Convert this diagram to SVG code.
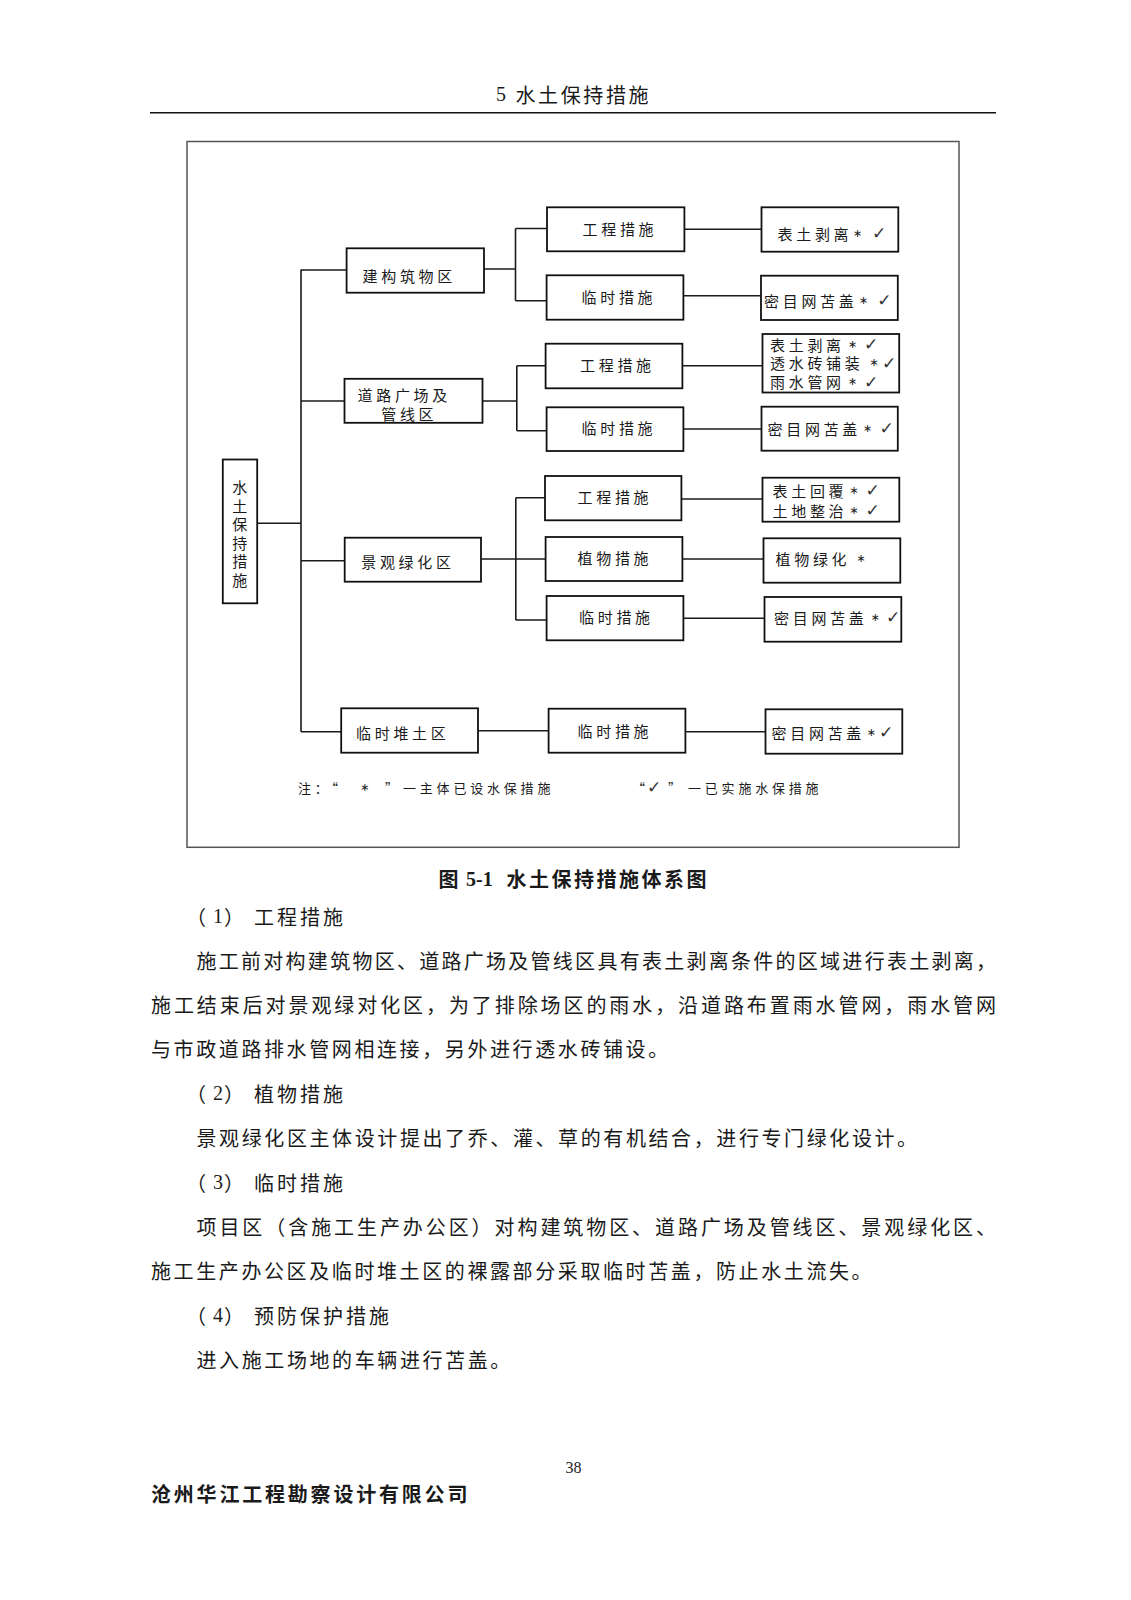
<svg xmlns="http://www.w3.org/2000/svg" width="1131" height="1600" viewBox="0 0 1131 1600">
<style>
text{font-family:"Noto Sans CJK SC","Noto Sans",sans-serif;fill:#1a1a1a;dominant-baseline:central}
.box{fill:#fff;stroke:#111;stroke-width:1.8}
.bt{font-size:15px;letter-spacing:3.7px}
.sym{font-family:"DejaVu Sans",sans-serif;font-size:11px;text-anchor:middle}
.chk{font-family:"DejaVu Sans",sans-serif;font-size:17px;text-anchor:middle;fill:#333}
.con{fill:none;stroke:#1a1a1a;stroke-width:1.6}
.body{font-size:20px;letter-spacing:2.6px}
.head{font-size:20px;letter-spacing:3px}
.note{font-size:13px;letter-spacing:3.8px}
.ser{font-family:"Liberation Serif",serif}
</style>
<rect width="1131" height="1600" fill="#fff"/>

<g id="page-header">
<text x="496" y="94" class="ser" font-size="20">5</text>
<text x="515.5" y="94" font-size="20" letter-spacing="2.6">水土保持措施</text>
<line x1="150" y1="112.7" x2="996" y2="112.7" stroke="#111" stroke-width="1.6"/>
</g>

<rect id="frame" x="187" y="141.5" width="772" height="705.8" fill="none" stroke="#555" stroke-width="1.5"/>

<g id="connectors" class="con">
<path d="M301 269.5V731.7"/>
<path d="M301 270H346.6M301 401H344.5M257 523.3H301M301 560.7H344.7M301 731.7H341.2"/>
<path d="M484 269H515.5M515.5 228.5V300.7M515.5 228.5H547M515.5 300.7H546.6"/>
<path d="M684.4 229.3H761.5M683.4 295.7H761"/>
<path d="M482.5 401H516.8M516.8 365.7V430.7M516.8 365.7H545.6M516.8 430.7H546.6"/>
<path d="M682.4 365.7H762.5M683.4 429H761.5"/>
<path d="M481 559H515.8M515.8 497.7V620M515.8 497.7H545M515.8 559H545.6M515.8 620H546.6"/>
<path d="M681.4 499H762.5M682.4 559H763.5M683.4 618.3H764.5"/>
<path d="M478 730.7H548.6M685.4 731.7H765.5"/>
</g>

<g id="n-root">
<rect class="box" x="222.8" y="459.5" width="34.4" height="143.8"/>
<text font-size="15" text-anchor="middle"><tspan x="239.8" y="486">水</tspan><tspan x="239.8" y="504.6">土</tspan><tspan x="239.8" y="523.2">保</tspan><tspan x="239.8" y="541.8">持</tspan><tspan x="239.8" y="560.4">措</tspan><tspan x="239.8" y="579">施</tspan></text>
</g>

<g id="n-jz">
<rect class="box" x="346.6" y="248.3" width="137.4" height="44.4"/>
<text class="bt" x="362.5" y="275">建构筑物区</text>
</g>
<g id="n-jz-gc">
<rect class="box" x="547" y="207.3" width="137.4" height="44"/>
<text class="bt" x="582.5" y="228.5">工程措施</text>
</g>
<g id="n-jz-ls">
<rect class="box" x="546.6" y="275.3" width="136.8" height="44.4"/>
<text class="bt" x="581.5" y="296">临时措施</text>
</g>
<g id="n-jz-gc-r">
<rect class="box" x="761.5" y="207.3" width="136.8" height="44.4"/>
<text class="bt" x="777.5" y="233.3">表土剥离</text>
<text class="sym" x="857.5" y="233.3">∗</text>
<text class="chk" x="879" y="233.3">✓</text>
</g>
<g id="n-jz-ls-r">
<rect class="box" x="761" y="275.7" width="136.8" height="44.3"/>
<text class="bt" x="764" y="300">密目网苫盖</text>
<text class="sym" x="863.7" y="300">∗</text>
<text class="chk" x="884.3" y="300">✓</text>
</g>

<g id="n-dl">
<rect class="box" x="344.5" y="378.8" width="138" height="44"/>
<text class="bt" x="357.5" y="394.3">道路广场及</text>
<text class="bt" x="381.2" y="413.3">管线区</text>
</g>
<g id="n-dl-gc">
<rect class="box" x="545.6" y="343.7" width="136.8" height="44.6"/>
<text class="bt" x="580" y="364.3">工程措施</text>
</g>
<g id="n-dl-ls">
<rect class="box" x="546.6" y="407.3" width="136.8" height="43.7"/>
<text class="bt" x="581.5" y="427.7">临时措施</text>
</g>
<g id="n-dl-gc-r">
<rect class="box" x="762.5" y="334" width="136.7" height="58.5"/>
<text class="bt" x="770" y="344">表土剥离</text>
<text class="sym" x="852.5" y="344">∗</text>
<text class="chk" x="871" y="344">✓</text>
<text class="bt" x="770" y="362.7" letter-spacing="4.6">透水砖铺装</text>
<text class="sym" x="874" y="362.7">∗</text>
<text class="chk" x="889" y="362.7">✓</text>
<text class="bt" x="770" y="381.7">雨水管网</text>
<text class="sym" x="852.5" y="381.7">∗</text>
<text class="chk" x="871" y="381.7">✓</text>
</g>
<g id="n-dl-ls-r">
<rect class="box" x="761.5" y="406.7" width="136.3" height="44"/>
<text class="bt" x="767.5" y="428">密目网苫盖</text>
<text class="sym" x="867.5" y="428">∗</text>
<text class="chk" x="886.7" y="428">✓</text>
</g>

<g id="n-jg">
<rect class="box" x="344.7" y="537.7" width="136.3" height="44"/>
<text class="bt" x="361.2" y="561">景观绿化区</text>
</g>
<g id="n-jg-gc">
<rect class="box" x="545" y="476" width="136.4" height="44.3"/>
<text class="bt" x="577.5" y="496.7">工程措施</text>
</g>
<g id="n-jg-zw">
<rect class="box" x="545.6" y="537" width="136.8" height="44"/>
<text class="bt" x="577.5" y="557">植物措施</text>
</g>
<g id="n-jg-ls">
<rect class="box" x="546.6" y="596" width="136.8" height="44.3"/>
<text class="bt" x="579" y="616.7">临时措施</text>
</g>
<g id="n-jg-gc-r">
<rect class="box" x="762.5" y="477.7" width="136.8" height="44"/>
<text class="bt" x="772.5" y="490">表土回覆</text>
<text class="sym" x="854.2" y="490">∗</text>
<text class="chk" x="872.5" y="490">✓</text>
<text class="bt" x="772.5" y="510">土地整治</text>
<text class="sym" x="854.2" y="510">∗</text>
<text class="chk" x="872.5" y="510">✓</text>
</g>
<g id="n-jg-zw-r">
<rect class="box" x="763.5" y="538.3" width="136.8" height="44.4"/>
<text class="bt" x="775.5" y="558.3">植物绿化</text>
<text class="sym" x="861" y="558.3">∗</text>
</g>
<g id="n-jg-ls-r">
<rect class="box" x="764.5" y="597" width="136.8" height="44.7"/>
<text class="bt" x="774" y="617">密目网苫盖</text>
<text class="sym" x="875.4" y="617">∗</text>
<text class="chk" x="893" y="617">✓</text>
</g>

<g id="n-ls">
<rect class="box" x="341.2" y="708.3" width="136.8" height="44.4"/>
<text class="bt" x="356" y="732">临时堆土区</text>
</g>
<g id="n-ls-ls">
<rect class="box" x="548.6" y="708.7" width="136.8" height="44"/>
<text class="bt" x="577.5" y="730.3">临时措施</text>
</g>
<g id="n-ls-ls-r">
<rect class="box" x="765.5" y="709.3" width="136.8" height="44.4"/>
<text class="bt" x="771.5" y="732">密目网苫盖</text>
<text class="sym" x="871.4" y="732">∗</text>
<text class="chk" x="886" y="732">✓</text>
</g>

<g id="legend">
<text class="note" y="787"><tspan x="298">注：“</tspan><tspan x="366.7" class="sym" font-size="10">∗</tspan><tspan x="385">”</tspan><tspan x="403">一主体已设水保措施</tspan></text>
<text class="note" y="787"><tspan x="632">“</tspan><tspan x="656" class="chk" font-size="15">✓</tspan><tspan x="668">”</tspan><tspan x="688">一已实施水保措施</tspan></text>
</g>

<g id="caption">
<text x="438.5" y="878.5" font-size="20" font-weight="700">图</text>
<text x="466" y="878.5" class="ser" font-size="20" font-weight="700">5-1</text>
<text x="506.5" y="878.5" font-size="20" font-weight="700" letter-spacing="2.5">水土保持措施体系图</text>
</g>

<g id="body">
<text class="head" y="916"><tspan x="186">（</tspan><tspan x="213" class="ser">1</tspan><tspan x="224">）</tspan><tspan x="254">工程措施</tspan></text>
<text font-size="20" x="196.5" y="960.3" textLength="799.5" lengthAdjust="spacing">施工前对构建筑物区、道路广场及管线区具有表土剥离条件的区域进行表土剥离，</text>
<text font-size="20" x="151" y="1004.6" textLength="845" lengthAdjust="spacing">施工结束后对景观绿对化区，为了排除场区的雨水，沿道路布置雨水管网，雨水管网</text>
<text class="body" x="151" y="1048.9">与市政道路排水管网相连接，另外进行透水砖铺设。</text>
<text class="head" y="1093.2"><tspan x="186">（</tspan><tspan x="213" class="ser">2</tspan><tspan x="224">）</tspan><tspan x="254">植物措施</tspan></text>
<text class="body" x="196.5" y="1137.5">景观绿化区主体设计提出了乔、灌、草的有机结合，进行专门绿化设计。</text>
<text class="head" y="1181.8"><tspan x="186">（</tspan><tspan x="213" class="ser">3</tspan><tspan x="224">）</tspan><tspan x="254">临时措施</tspan></text>
<text font-size="20" x="196.5" y="1226.1" textLength="799.5" lengthAdjust="spacing">项目区（含施工生产办公区）对构建筑物区、道路广场及管线区、景观绿化区、</text>
<text class="body" x="151" y="1270.4">施工生产办公区及临时堆土区的裸露部分采取临时苫盖，防止水土流失。</text>
<text class="head" y="1314.7"><tspan x="186">（</tspan><tspan x="213" class="ser">4</tspan><tspan x="224">）</tspan><tspan x="254">预防保护措施</tspan></text>
<text class="body" x="196.5" y="1359">进入施工场地的车辆进行苫盖。</text>
</g>

<g id="page-footer">
<text x="573.4" y="1467" class="ser" font-size="16" text-anchor="middle">38</text>
<text x="151" y="1493" font-size="20" font-weight="700" letter-spacing="2.8">沧州华江工程勘察设计有限公司</text>
</g>
</svg>
